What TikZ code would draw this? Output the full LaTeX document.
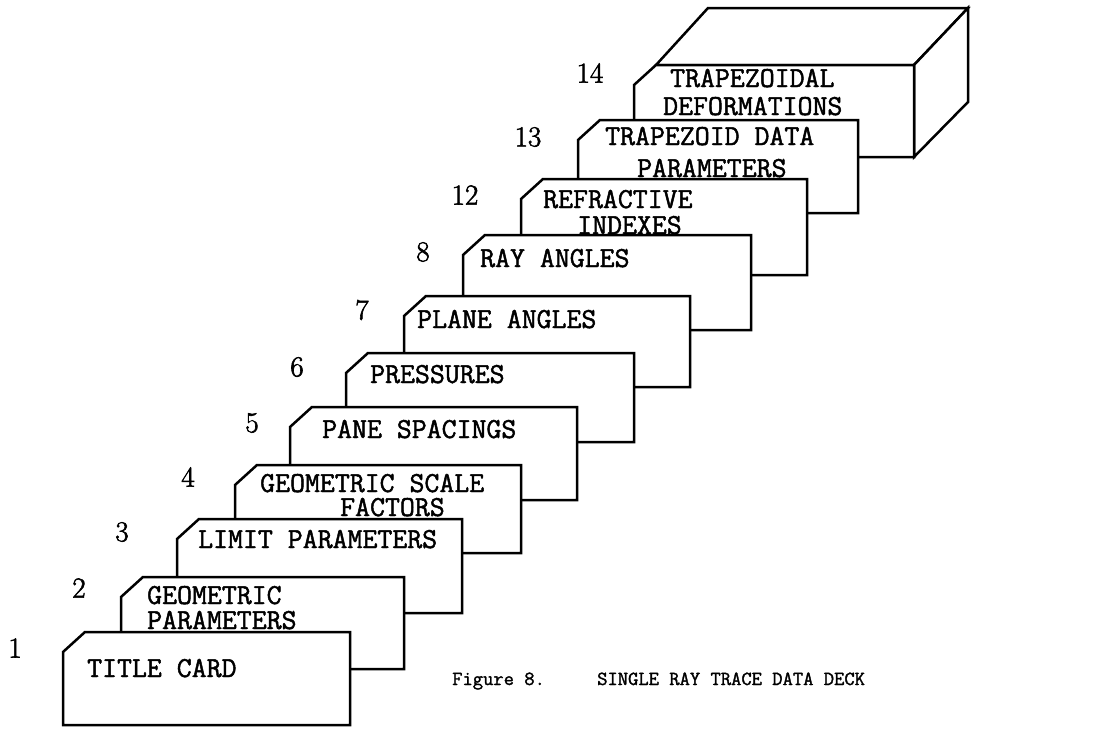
\documentclass[tikz,border=0pt]{standalone}
\usepackage{fontspec}
\newfontfamily\deckfont{Latin Modern Mono}[FakeBold=1.6]
\newfontfamily\numfont{Latin Modern Roman}[FakeBold=2]

\begin{document}
\begin{tikzpicture}[
      x=1pt, y=-1pt,
      card/.style={draw, fill=white, line width=2.5pt, line join=miter},
      cardtext/.style={font=\fontsize{29}{30}\selectfont\deckfont, anchor=base west, inner sep=0pt},
      num/.style={font=\fontsize{29}{29}\selectfont\numfont, inner sep=0pt},
      caption/.style={font=\fontsize{20}{20}\selectfont\deckfont, anchor=base west, inner sep=0pt}
    ]
    \useasboundingbox (0,0) rectangle (1096,731);

    % box at the back of the deck
    \draw[card] (656,65) -- (708,8) -- (968,8) -- (914,65) -- cycle;
    \draw[card] (914,65) -- (968,8) -- (968,102) -- (914,157) -- cycle;

    % cards, back to front
    \foreach \cl/\ct/\cr/\cb in {634/65/914/157, 578/120/858/213, 521/179/807/275,
        463/235/751/330, 404/296/690/387, 346/353/634/442, 290/407/577/500,
        235/465/521/553, 177/519/462/613, 121/577/404/669, 63/632/350/725}
      \draw[card] (\cl,\ct+20) -- (\cl+22,\ct) -- (\cr,\ct) -- (\cr,\cb) -- (\cl,\cb) -- cycle;

    % card texts
    \node[cardtext] (t14a) at (670,87)  {TRAPEZOIDAL};
    \node[cardtext] (t14b) at (663,115) {DEFORMATIONS};
    \node[cardtext] (t13a) at (605,145) {TRAPEZOID DATA};
    \node[cardtext] (t13b) at (637,177) {PARAMETERS};
    \node[cardtext] (t12a) at (543,208) {REFRACTIVE};
    \node[cardtext] (t12b) at (577,234) {INDEXES};
    \node[cardtext] (t8)   at (480,267) {RAY ANGLES};
    \node[cardtext] (t7)   at (417,328) {PLANE ANGLES};
    \node[cardtext] (t6)   at (370,383) {PRESSURES};
    \node[cardtext] (t5)   at (322,438) {PANE SPACINGS};
    \node[cardtext] (t4a)  at (260,492) {GEOMETRIC SCALE};
    \node[cardtext] (t4b)  at (340,516) {FACTORS};
    \node[cardtext] (t3)   at (198,548) {LIMIT PARAMETERS};
    \node[cardtext] (t2a)  at (147,604) {GEOMETRIC};
    \node[cardtext] (t2b)  at (147,629) {PARAMETERS};
    \node[cardtext] (t1)   at (87,677)  {TITLE CARD};

    % card numbers
    \node[num] (n1)  at (15,648)  {1};
    \node[num] (n2)  at (79,588)  {2};
    \node[num] (n3)  at (122,532) {3};
    \node[num] (n4)  at (188,477) {4};
    \node[num] (n5)  at (252,423) {5};
    \node[num] (n6)  at (297,367) {6};
    \node[num] (n7)  at (362,310) {7};
    \node[num] (n8)  at (423,252) {8};
    \node[num] (n12) at (465,195) {12};
    \node[num] (n13) at (528,137) {13};
    \node[num] (n14) at (590,73)  {14};

    % caption
    \node[caption] (fig)   at (452,685) {Figure 8.};
    \node[caption] (title) at (597,685) {SINGLE RAY TRACE DATA DECK};
  \end{tikzpicture}
\end{document}
